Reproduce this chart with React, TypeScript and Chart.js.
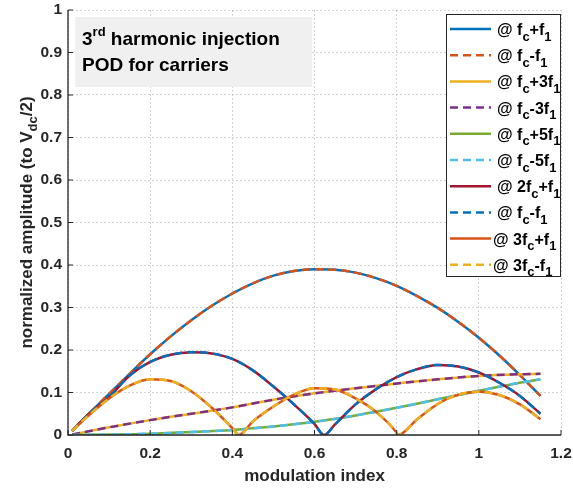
import React, { useEffect, useRef } from "react";
import { Chart, registerables } from "chart.js";

Chart.register(...registerables);

// ---------- data ----------
const mIdxA = [0.01, 0.05, 0.1, 0.15, 0.2, 0.25, 0.3, 0.35, 0.4, 0.45, 0.5, 0.55, 0.6, 0.65, 0.7, 0.75, 0.8, 0.85, 0.9, 0.95, 1.0, 1.05, 1.1, 1.15];
const ampFcF1 = [0.01, 0.049, 0.097, 0.144, 0.19, 0.232, 0.27, 0.304, 0.333, 0.357, 0.375, 0.386, 0.39, 0.389, 0.382, 0.369, 0.351, 0.327, 0.299, 0.266, 0.229, 0.187, 0.141, 0.092];

const mIdxB = [0.01, 0.1, 0.2, 0.3, 0.4, 0.5, 0.6, 0.7, 0.8, 0.9, 1.0, 1.1, 1.15];
const ampFc3F1 = [0.001, 0.018, 0.035, 0.05, 0.065, 0.083, 0.098, 0.11, 0.121, 0.131, 0.139, 0.143, 0.144];
const ampFc5F1 = [0.0, 0.001, 0.003, 0.007, 0.012, 0.02, 0.031, 0.046, 0.064, 0.084, 0.104, 0.123, 0.131];

const mIdx2 = [0.01, 0.05, 0.1, 0.15, 0.2, 0.25, 0.3, 0.35, 0.4, 0.45, 0.5, 0.55, 0.6, 0.623, 0.65, 0.7, 0.75, 0.8, 0.85, 0.9, 0.95, 1.0, 1.05, 1.1, 1.15];
const amp2FcF1 = [0.01, 0.049, 0.089, 0.14, 0.172, 0.189, 0.195, 0.192, 0.179, 0.152, 0.114, 0.072, 0.026, 0.0, 0.025, 0.072, 0.108, 0.136, 0.155, 0.165, 0.161, 0.147, 0.123, 0.092, 0.05];

const mIdx3 = [0.01, 0.05, 0.1, 0.15, 0.2, 0.25, 0.3, 0.35, 0.4, 0.416, 0.45, 0.5, 0.55, 0.6, 0.65, 0.7, 0.75, 0.8, 0.803, 0.85, 0.9, 0.95, 1.0, 1.05, 1.1, 1.15];
const amp3FcF1 = [0.01, 0.046, 0.086, 0.116, 0.131, 0.127, 0.103, 0.064, 0.016, 0.0, 0.032, 0.067, 0.095, 0.11, 0.107, 0.086, 0.054, 0.005, 0.0, 0.037, 0.073, 0.095, 0.102, 0.094, 0.072, 0.037];

const xTickValues = [0, 0.2, 0.4, 0.6, 0.8, 1, 1.2];
const xTickLabels = ["0", "0.2", "0.4", "0.6", "0.8", "1", "1.2"];
const yTickValues = [0, 0.1, 0.2, 0.3, 0.4, 0.5, 0.6, 0.7, 0.8, 0.9, 1];
const yTickLabels = ["0", "0.1", "0.2", "0.3", "0.4", "0.5", "0.6", "0.7", "0.8", "0.9", "1"];

const legendLabels = [
  "@ f_c+f_1",
  "@ f_c-f_1",
  "@ f_c+3f_1",
  "@ f_c-3f_1",
  "@ f_c+5f_1",
  "@ f_c-5f_1",
  "@ 2f_c+f_1",
  "@ f_c-f_1",
  "@ 3f_c+f_1",
  "@ 3f_c-f_1",
];
const annotationLines = ["3^{rd} harmonic injection", "POD for carriers"];
const xAxisTitle = "modulation index";
const yAxisTitle = "normalized amplitude (to V_{dc}/2)";

// ---------- styles ----------
const FONT = "'Liberation Sans', Arial, Helvetica, sans-serif";
const AX = "#262626";
const C = {
  blue: "#0072BD",
  orange: "#D95319",
  yellow: "#EDB120",
  purple: "#7E2F8E",
  green: "#77AC30",
  cyan: "#4DBEEE",
  red: "#A2142F",
};
const DASH = [8, 5];

const seriesDefs = [
  { x: mIdxA, y: ampFcF1, color: C.blue, dashed: false },
  { x: mIdxA, y: ampFcF1, color: C.orange, dashed: true },
  { x: mIdxB, y: ampFc3F1, color: C.yellow, dashed: false },
  { x: mIdxB, y: ampFc3F1, color: C.purple, dashed: true },
  { x: mIdxB, y: ampFc5F1, color: C.green, dashed: false },
  { x: mIdxB, y: ampFc5F1, color: C.cyan, dashed: true },
  { x: mIdx2, y: amp2FcF1, color: C.red, dashed: false },
  { x: mIdx2, y: amp2FcF1, color: C.blue, dashed: true },
  { x: mIdx3, y: amp3FcF1, color: C.orange, dashed: false },
  { x: mIdx3, y: amp3FcF1, color: C.yellow, dashed: true },
];

type Part = { t: string; k: "n" | "sub" | "sup" };
function parseRich(s: string): Part[] {
  const parts: Part[] = [];
  let buf = "";
  let i = 0;
  while (i < s.length) {
    const ch = s[i];
    if (ch === "_" || ch === "^") {
      if (buf) { parts.push({ t: buf, k: "n" }); buf = ""; }
      const k = ch === "_" ? "sub" : "sup";
      let t = "";
      if (s[i + 1] === "{") {
        const end = s.indexOf("}", i + 2);
        t = s.slice(i + 2, end);
        i = end + 1;
      } else {
        t = s[i + 1];
        i += 2;
      }
      parts.push({ t, k });
    } else {
      buf += ch;
      i++;
    }
  }
  if (buf) parts.push({ t: buf, k: "n" });
  return parts;
}

function richWidth(ctx: CanvasRenderingContext2D, parts: Part[], size: number, sub: number) {
  let w = 0;
  for (const p of parts) {
    ctx.font = `bold ${p.k === "n" ? size : sub}px ${FONT}`;
    w += ctx.measureText(p.t).width;
  }
  return w;
}

function drawRich(ctx: CanvasRenderingContext2D, parts: Part[], x: number, y: number, size: number, sub: number, subDy: number, supDy: number) {
  ctx.textBaseline = "alphabetic";
  ctx.textAlign = "left";
  let cx = x;
  for (const p of parts) {
    const fs = p.k === "n" ? size : sub;
    ctx.font = `bold ${fs}px ${FONT}`;
    const dy = p.k === "sub" ? subDy : p.k === "sup" ? -supDy : 0;
    ctx.fillText(p.t, cx, y + dy);
    cx += ctx.measureText(p.t).width;
  }
}

const overlayPlugin = {
  id: "overlay",
  afterDraw(chart: any) {
    const ctx: CanvasRenderingContext2D = chart.ctx;
    const a = chart.chartArea;
    const xs = chart.scales.x;
    const ys = chart.scales.y;
    ctx.save();

    // axes lines
    ctx.strokeStyle = AX;
    ctx.lineWidth = 1.3;
    ctx.setLineDash([]);
    ctx.beginPath();
    ctx.moveTo(a.left, a.top);
    ctx.lineTo(a.left, a.bottom);
    ctx.lineTo(a.right, a.bottom);
    ctx.stroke();
    // inner ticks
    ctx.lineWidth = 1;
    ctx.beginPath();
    xTickValues.forEach((v) => {
      const px = xs.getPixelForValue(v);
      ctx.moveTo(px, a.bottom);
      ctx.lineTo(px, a.bottom - 5);
    });
    yTickValues.forEach((v) => {
      const py = ys.getPixelForValue(v);
      ctx.moveTo(a.left, py);
      ctx.lineTo(a.left + 5, py);
    });
    ctx.stroke();

    // annotation box
    ctx.fillStyle = "#f0f0f0";
    ctx.fillRect(a.left + 7, a.top + 7, 237, 70);
    ctx.fillStyle = "#000";
    drawRich(ctx, parseRich(annotationLines[0]), a.left + 14, a.top + 35, 19, 13, 0, 9);
    drawRich(ctx, parseRich(annotationLines[1]), a.left + 14, a.top + 61, 19, 13, 0, 9);

    // legend
    const lx0 = a.right - 115;
    const ly0 = a.top + 4;
    ctx.fillStyle = "#fff";
    ctx.fillRect(lx0, ly0, 115, 263);
    ctx.strokeStyle = "#262626";
    ctx.lineWidth = 1;
    ctx.strokeRect(lx0 + 0.5, ly0 + 0.5, 114, 262);
    legendLabels.forEach((lab, i) => {
      const cy = ly0 + 15 + i * 26.2;
      const d = seriesDefs[i];
      ctx.strokeStyle = d.color;
      ctx.lineWidth = 2.5;
      ctx.setLineDash(d.dashed ? DASH : []);
      ctx.beginPath();
      ctx.moveTo(lx0 + 4, cy);
      ctx.lineTo(lx0 + 45, cy);
      ctx.stroke();
      ctx.setLineDash([]);
      ctx.fillStyle = "#000";
      drawRich(ctx, parseRich(lab), lx0 + (i >= 8 ? 47 : 51), cy + 6, 16, 13, 5.5, 6);
    });

    // x title
    ctx.fillStyle = AX;
    ctx.font = `bold 17px ${FONT}`;
    ctx.textAlign = "center";
    ctx.textBaseline = "middle";
    ctx.fillText(xAxisTitle, (a.left + a.right) / 2, 476);

    // y title (rotated)
    const yp = parseRich(yAxisTitle);
    ctx.save();
    ctx.translate(32, (a.top + a.bottom) / 2);
    ctx.rotate(-Math.PI / 2);
    const w = richWidth(ctx, yp, 17, 13);
    ctx.fillStyle = AX;
    drawRich(ctx, yp, -w / 2, 0, 17, 13, 5, 6);
    ctx.restore();

    ctx.restore();
  },
};

function zeroPad(s: any) {
  s.paddingLeft = 0;
  s.paddingRight = 0;
  s.paddingTop = 0;
  s.paddingBottom = 0;
}

export default function App() {
  const ref = useRef<HTMLCanvasElement | null>(null);

  useEffect(() => {
    if (!ref.current) return;
    const datasets = seriesDefs.map((d, i) => ({
      label: legendLabels[i],
      data: d.x.map((xv, j) => ({ x: xv, y: d.y[j] })),
      borderColor: d.color,
      backgroundColor: d.color,
      borderWidth: 2.5,
      borderDash: d.dashed ? DASH : [],
      pointRadius: 0,
      fill: false,
      cubicInterpolationMode: "monotone" as const,
      order: 20 - i,
    }));
    const tickFont = { family: FONT, size: 15.5, weight: "bold" as const };
    const chart = new Chart(ref.current, {
      type: "line",
      data: { datasets },
      options: {
        animation: false,
        responsive: false,
        events: [],
        layout: { padding: { left: 0, top: 10, right: 12, bottom: 0 } },
        plugins: { legend: { display: false }, tooltip: { enabled: false } },
        scales: {
          x: {
            type: "linear",
            min: 0,
            max: 1.2,
            afterBuildTicks: (s: any) => {
              s.ticks = xTickValues.map((v) => ({ value: v }));
            },
            afterFit: (s: any) => {
              s.height = 53;
              zeroPad(s);
            },
            ticks: {
              callback: (_v: any, i: number) => xTickLabels[i],
              font: tickFont,
              color: AX,
              padding: 9,
              maxRotation: 0,
              autoSkip: false,
            },
            grid: { color: "rgba(38,38,38,0.2)", lineWidth: 1, drawTicks: false },
            border: { display: false, dash: [2, 2] },
          },
          y: {
            type: "linear",
            min: 0,
            max: 1,
            afterBuildTicks: (s: any) => {
              s.ticks = yTickValues.map((v) => ({ value: v }));
            },
            afterFit: (s: any) => {
              s.width = 68;
              zeroPad(s);
            },
            ticks: {
              callback: (_v: any, i: number) => yTickLabels[i],
              font: tickFont,
              color: AX,
              padding: 6,
              autoSkip: false,
            },
            grid: { color: "rgba(38,38,38,0.2)", lineWidth: 1, drawTicks: false },
            border: { display: false, dash: [2, 2] },
          },
        },
      },
      plugins: [overlayPlugin],
    });
    return () => chart.destroy();
  }, []);

  return (
    <div style={{ position: "fixed", left: 0, top: 0, width: 573, height: 488, background: "#fff" }}>
      <canvas ref={ref} width={573} height={488} style={{ display: "block", width: 573, height: 488 }} />
    </div>
  );
}
